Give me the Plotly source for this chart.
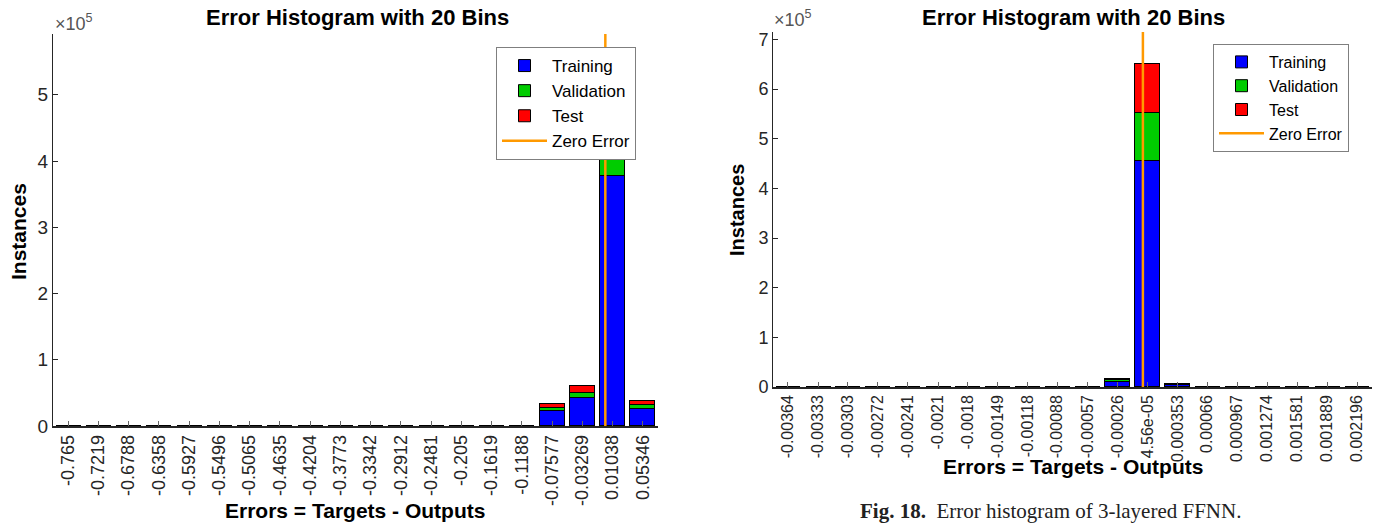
import plotly.graph_objects as go

# ---------------- data ----------------
left_labels = ["-0.765", "-0.7219", "-0.6788", "-0.6358", "-0.5927", "-0.5496", "-0.5065",
               "-0.4635", "-0.4204", "-0.3773", "-0.3342", "-0.2912", "-0.2481", "-0.205",
               "-0.1619", "-0.1188", "-0.07577", "-0.03269", "0.01038", "0.05346"]
left_centers = [-0.765, -0.7219, -0.6788, -0.6358, -0.5927, -0.5496, -0.5065,
                -0.4635, -0.4204, -0.3773, -0.3342, -0.2912, -0.2481, -0.205,
                -0.1619, -0.1188, -0.07577, -0.03269, 0.01038, 0.05346]
left_training = [30, 10, 15, 20, 25, 30, 40, 50, 60, 80, 110, 150, 200, 250, 300, 400,
                 23300, 41800, 377000, 26300]
left_validation = [5, 2, 3, 4, 5, 6, 8, 10, 12, 16, 22, 30, 40, 50, 60, 80,
                   4500, 8700, 81000, 5400]
left_test = [5, 2, 3, 4, 5, 6, 8, 10, 12, 16, 22, 30, 40, 50, 60, 80,
             5400, 9500, 80000, 6700]

right_labels = ["-0.00364", "-0.00333", "-0.00303", "-0.00272", "-0.00241", "-0.0021",
                "-0.0018", "-0.00149", "-0.00118", "-0.00088", "-0.00057", "-0.00026",
                "4.56e-05", "0.000353", "0.00066", "0.000967", "0.001274", "0.001581",
                "0.001889", "0.002196"]
right_centers = [-0.00364, -0.00333, -0.00303, -0.00272, -0.00241, -0.0021,
                 -0.0018, -0.00149, -0.00118, -0.00088, -0.00057, -0.00026,
                 4.56e-05, 0.000353, 0.00066, 0.000967, 0.001274, 0.001581,
                 0.001889, 0.002196]
right_training = [5, 4, 6, 8, 10, 15, 20, 30, 50, 90, 300, 11000, 455000, 3500,
                  400, 120, 60, 30, 15, 10]
right_validation = [1, 1, 1, 2, 2, 3, 4, 6, 10, 18, 60, 2300, 97000, 900,
                    80, 25, 12, 6, 3, 2]
right_test = [1, 1, 1, 2, 2, 3, 4, 6, 10, 18, 60, 2200, 98000, 900,
              80, 25, 12, 6, 3, 2]

left_yticks = [0, 100000, 200000, 300000, 400000, 500000]
left_yticktext = ["0", "1", "2", "3", "4", "5"]
right_yticks = [0, 100000, 200000, 300000, 400000, 500000, 600000, 700000]
right_yticktext = ["0", "1", "2", "3", "4", "5", "6", "7"]

series_names = ["Training", "Validation", "Test"]
series_colors = ["#0000FF", "#00CC00", "#FF0000"]
zero_color = "#FF9900"

# ---------------- figure ----------------
fig = go.Figure()
FONT = "Liberation Sans, Arial, Helvetica, sans-serif"
AXC = "#262626"


def add_panel(centers, vals, xa, ya, legend):
    step = (centers[-1] - centers[0]) / (len(centers) - 1)
    for name, color, v in zip(series_names, series_colors, vals):
        fig.add_trace(go.Bar(
            x=centers, y=v, name=name, width=step * 0.83,
            marker=dict(color=color, line=dict(color="black", width=1)),
            xaxis=xa, yaxis=ya, legend=legend, showlegend=True))
    return step


lstep = add_panel(left_centers, [left_training, left_validation, left_test], "x", "y", "legend")
rstep = add_panel(right_centers, [right_training, right_validation, right_test], "x2", "y2", "legend2")

left_ymax = max(a + b + c for a, b, c in zip(left_training, left_validation, left_test)) * 1.1
right_ymax = max(a + b + c for a, b, c in zip(right_training, right_validation, right_test)) * 1.1

fig.add_trace(go.Scatter(x=[0, 0], y=[0, left_ymax], mode="lines", name="Zero Error",
                         line=dict(color=zero_color, width=2.5), xaxis="x", yaxis="y",
                         legend="legend"))
fig.add_trace(go.Scatter(x=[0, 0], y=[0, right_ymax], mode="lines", name="Zero Error",
                         line=dict(color=zero_color, width=2.5), xaxis="x2", yaxis="y2",
                         legend="legend2"))

W, H = 1387, 524


def xdom(a, b):
    return [a / W, b / W]


def ydom(top, bottom):
    return [1 - bottom / H, 1 - top / H]


common_x = dict(showgrid=False, zeroline=False, showline=True, linecolor=AXC, linewidth=1.5,
                ticks="inside", ticklen=5, tickcolor="#666666", tickangle=-90, automargin=False,
                tickfont=dict(family=FONT, color=AXC))
common_y = dict(showgrid=False, zeroline=False, showline=True, linecolor=AXC, linewidth=1,
                ticks="inside", ticklen=5, tickcolor=AXC, automargin=False,
                tickfont=dict(family=FONT, color=AXC))

fig.update_layout(
    width=W, height=H, margin=dict(l=0, r=0, t=0, b=0, autoexpand=False),
    paper_bgcolor="white", plot_bgcolor="white",
    barmode="stack", bargap=0, showlegend=True,
    font=dict(family=FONT, color=AXC),
    xaxis=dict(common_x, domain=xdom(53, 658), anchor="y",
               range=[left_centers[0] - lstep / 2, left_centers[-1] + lstep / 2],
               tickvals=left_centers, ticktext=left_labels,
               tickfont=dict(family=FONT, color=AXC, size=18)),
    yaxis=dict(common_y, domain=ydom(34, 426), anchor="x", range=[0, left_ymax],
               tickvals=left_yticks, ticktext=left_yticktext,
               tickfont=dict(family=FONT, color=AXC, size=19)),
    xaxis2=dict(common_x, domain=xdom(773, 1372), anchor="y2",
                range=[right_centers[0] - rstep / 2, right_centers[-1] + rstep / 2],
                tickvals=right_centers, ticktext=right_labels,
                tickfont=dict(family=FONT, color=AXC, size=16)),
    yaxis2=dict(common_y, domain=ydom(32, 387), anchor="x2", range=[0, right_ymax],
                tickvals=right_yticks, ticktext=right_yticktext,
                tickfont=dict(family=FONT, color=AXC, size=18)),
    legend=dict(x=496 / W, y=1 - 47 / H, xanchor="left", yanchor="top",
                bgcolor="white", bordercolor="#7f7f7f", borderwidth=1,
                font=dict(family=FONT, size=17, color="black"), itemwidth=45,
                traceorder="normal"),
    legend2=dict(x=1213 / W, y=1 - 44 / H, xanchor="left", yanchor="top",
                 bgcolor="white", bordercolor="#7f7f7f", borderwidth=1,
                 font=dict(family=FONT, size=16, color="black"), itemwidth=45,
                 traceorder="normal"),
)

ann = []
for cx, cy in [(357, 17), (1073, 17)]:
    ann.append(dict(text="<b>Error Histogram with 20 Bins</b>", x=cx / W, y=1 - cy / H,
                    xref="paper", yref="paper", showarrow=False, xanchor="center",
                    yanchor="middle", font=dict(family=FONT, size=22, color="black")))
for cx, cy in [(355, 510), (1073, 466)]:
    ann.append(dict(text="<b>Errors = Targets - Outputs</b>", x=cx / W, y=1 - cy / H,
                    xref="paper", yref="paper", showarrow=False, xanchor="center",
                    yanchor="middle", font=dict(family=FONT, size=21, color="black")))
for cx, cy, fs in [(18, 232, 21), (737, 210, 20)]:
    ann.append(dict(text="<b>Instances</b>", x=cx / W, y=1 - cy / H, textangle=-90,
                    xref="paper", yref="paper", showarrow=False, xanchor="center",
                    yanchor="middle", font=dict(family=FONT, size=fs, color="black")))
for lx, cy in [(53, 23), (772, 18)]:
    ann.append(dict(text="×10<sup>5</sup>", x=lx / W, y=1 - cy / H,
                    xref="paper", yref="paper", showarrow=False, xanchor="left",
                    yanchor="middle", font=dict(family=FONT, size=18, color="#555555")))
ann.append(dict(text="<b>Fig. 18.</b>  Error histogram of 3-layered FFNN.", x=1050 / W,
                y=1 - 511 / H, xref="paper", yref="paper", showarrow=False,
                xanchor="center", yanchor="middle",
                font=dict(family="Liberation Serif, Times New Roman, serif", size=21,
                          color="#222222")))
fig.update_layout(annotations=ann)

post = """
document.body.style.margin='0';
document.documentElement.style.overflow='hidden';
document.body.style.overflow='hidden';
"""
fig.write_html("out.html", post_script=post, config={"displayModeBar": False})
